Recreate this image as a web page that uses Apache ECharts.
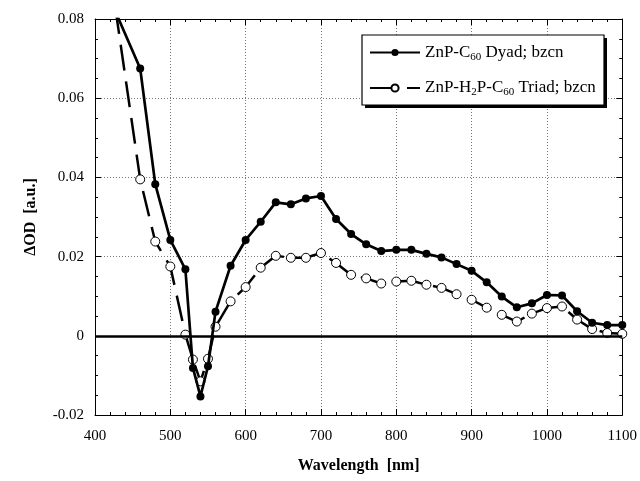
<!DOCTYPE html>
<html>
<head>
<meta charset="utf-8">
<script src="https://cdn.jsdelivr.net/npm/echarts@6/dist/echarts.min.js"></script>
<style>
html,body{margin:0;padding:0;background:#fff;}
#c{width:640px;height:481px;}
</style>
</head>
<body>
<div id="c"></div>
<script>
// Wavelengths (nm)
const wavelengths = [420,460,480,500,520,530,540,550,560,580,600,620,640,660,680,700,720,740,760,780,800,820,840,860,880,900,920,940,960,980,1000,1020,1040,1060,1080,1100];
// ZnP-C60 Dyad; bzcn
const dyadValues = [0.085,0.0675,0.0383,0.0242,0.0168,-0.0081,-0.0153,-0.0077,0.0061,0.0177,0.0242,0.0288,0.0337,0.0332,0.0347,0.0353,0.0295,0.0257,0.0231,0.0214,0.0217,0.0217,0.0207,0.0198,0.0181,0.0164,0.0135,0.0099,0.0072,0.0082,0.0103,0.0102,0.0062,0.0033,0.0027,0.0027];
// ZnP-H2P-C60 Triad; bzcn
const triadValues = [0.092,0.0395,0.0238,0.0175,0.0003,-0.006,-0.0115,-0.0058,0.0023,0.0087,0.0123,0.0172,0.0202,0.0197,0.0197,0.0209,0.0184,0.0154,0.0145,0.0132,0.0137,0.0139,0.0129,0.0121,0.0105,0.0091,0.0071,0.0053,0.0036,0.0056,0.0070,0.0074,0.0041,0.0017,0.0007,0.0005];
const xTicks = [400,500,600,700,800,900,1000,1100];
const yTicks = [-0.02,0,0.02,0.04,0.06,0.08];

const serif = "'Liberation Serif','DejaVu Serif',serif";
const pairs = (xs, ys) => xs.map((x,i)=>[x, ys[i]]);

const chart = echarts.init(document.getElementById('c'), null, {renderer:'canvas'});
const baseX = {
  type:'value', min:xTicks[0], max:xTicks[xTicks.length-1], interval:100,
  axisLine:{show:true, onZero:false, lineStyle:{color:'#000', width:1}},
  axisTick:{show:true, inside:true, length:6, lineStyle:{color:'#000'}},
  minorTick:{show:true, splitNumber:5, length:3, lineStyle:{color:'#000'}},
};
const baseY = {
  type:'value', min:yTicks[0], max:yTicks[yTicks.length-1], interval:0.02,
  axisLine:{show:true, onZero:false, lineStyle:{color:'#000', width:1}},
  axisTick:{show:true, inside:true, length:6, lineStyle:{color:'#000'}},
  minorTick:{show:true, splitNumber:4, length:3, lineStyle:{color:'#000'}},
};
chart.setOption({
  animation:false,
  backgroundColor:'#fff',
  grid:{left:95, right:16, top:19, bottom:66, containLabel:false},
  graphic:[
    {type:'rect', z:5, shape:{x:365, y:38, width:242, height:70}, style:{fill:'#000'}},
    {type:'rect', z:6, shape:{x:362, y:35, width:242, height:70}, style:{fill:'#fff', stroke:'#000', lineWidth:1.2}}
  ],
  legend:{
    orient:'vertical', left:369, top:44, z:20,
    padding:0, itemGap:17, itemWidth:50, itemHeight:9,
    textStyle:{fontFamily:serif, fontSize:17, color:'#000',
      rich:{
        a:{fontFamily:serif, fontSize:17, color:'#000'},
        s:{fontFamily:serif, fontSize:11, color:'#000', verticalAlign:'bottom', padding:[9,0,0,0]}
      }},
    formatter:function(name){
      if(name==='dyad') return '{a|ZnP-C}{s|60}{a| Dyad; bzcn}';
      return '{a|ZnP-H}{s|2}{a|P-C}{s|60}{a| Triad; bzcn}';
    },
    data:['dyad','triad']
  },
  xAxis:[
    Object.assign({}, baseX, {
      position:'bottom',
      name:'Wavelength  [nm]', nameLocation:'middle', nameGap:43,
      nameTextStyle:{fontFamily:serif, fontSize:16, fontWeight:'bold', color:'#000'},
      axisLabel:{fontFamily:serif, fontSize:15, color:'#000', margin:14,
        formatter:function(v){ return String(v); }},
      splitLine:{show:true, lineStyle:{color:'#777', type:[1,2], width:1}}
    }),
    Object.assign({}, baseX, {position:'top', axisLabel:{show:false}, splitLine:{show:false}})
  ],
  yAxis:[
    Object.assign({}, baseY, {
      position:'left',
      name:'ΔOD  [a.u.]', nameLocation:'middle', nameGap:56, nameRotate:90,
      nameTextStyle:{fontFamily:serif, fontSize:16, fontWeight:'bold', color:'#000'},
      axisLabel:{fontFamily:serif, fontSize:15, color:'#000', margin:11,
        formatter:function(v){ return Math.abs(v)<1e-9 ? '0' : v.toFixed(2); }},
      splitLine:{show:true, lineStyle:{color:'#777', type:[1,2], width:1}}
    }),
    Object.assign({}, baseY, {position:'right', axisLabel:{show:false}, splitLine:{show:false}})
  ],
  series:[
    {
      name:'triad', type:'line', xAxisIndex:0, yAxisIndex:0,
      data:pairs(wavelengths, triadValues), clip:true,
      symbol:'circle', symbolSize:9, showAllSymbol:true,
      itemStyle:{color:'#fff', borderColor:'#000', borderWidth:1},
      lineStyle:{color:'#000', width:2.5, type:[26,11]},
      z:3,
      markLine:{
        silent:true, symbol:'none', label:{show:false},
        lineStyle:{color:'#000', width:2.5, type:'solid'},
        data:[{yAxis:0}]
      }
    },
    {
      name:'dyad', type:'line', xAxisIndex:0, yAxisIndex:0,
      data:pairs(wavelengths, dyadValues), clip:true,
      symbol:'circle', symbolSize:8, showAllSymbol:true,
      itemStyle:{color:'#000', borderColor:'#000', borderWidth:0},
      lineStyle:{color:'#000', width:2.7, type:'solid'},
      z:4
    }
  ]
});
</script>
</body>
</html>
